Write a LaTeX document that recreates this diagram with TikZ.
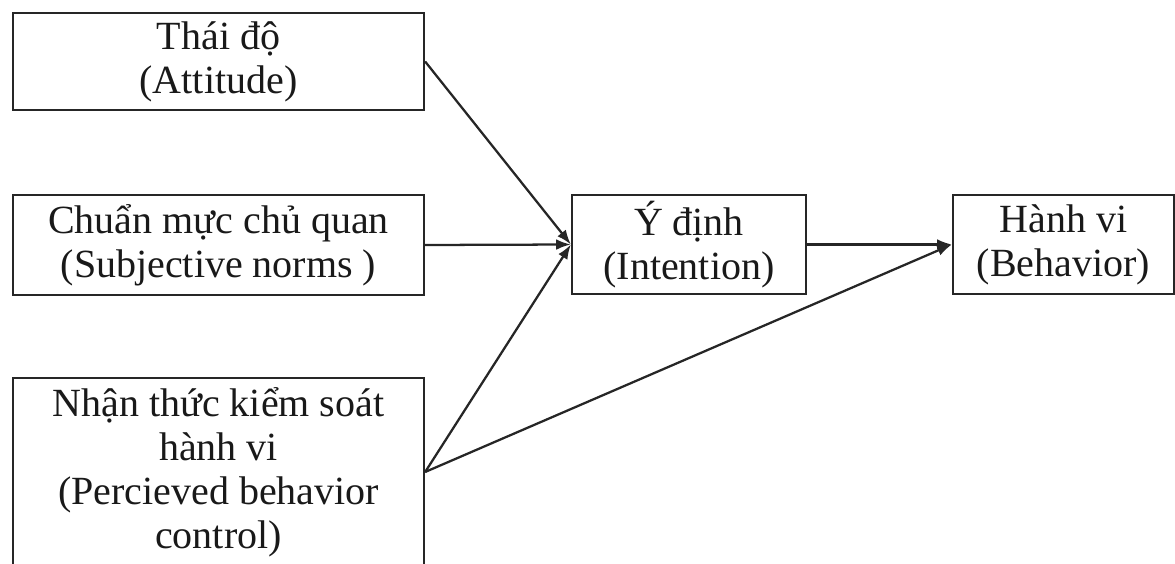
\documentclass[tikz,border=0pt]{standalone}
\usepackage{fontspec}
\setmainfont{Liberation Serif}
\usetikzlibrary{arrows.meta}
\begin{document}
\begin{tikzpicture}[x=0.75pt,y=-0.75pt,
  box/.style={draw=black!85, line width=1.7pt, inner sep=0pt, align=center,
    text=black!90, font=\fontsize{30}{33}\selectfont},
  arr/.style={draw=black!85, line width=1.7pt, -{Latex[length=11pt,width=8pt]}}]
\useasboundingbox (0,0) rectangle (1175,564);
% factor boxes on the left
\node[box, minimum width=308.25pt, minimum height=73pt] (att) at (218.5,61.5)
  {Thái độ\\(Attitude)};
\node[box, minimum width=308.25pt, minimum height=75pt] (sub) at (218.5,245)
  {Chuẩn mực chủ quan\\(Subjective norms )};
\node[box, minimum width=308.25pt, minimum height=141pt] (pbc) at (218.5,472)
  {Nhận thức kiểm soát\\hành vi\\(Percieved behavior\\control)};
% intention and behavior
\node[box, minimum width=175.5pt, minimum height=74.5pt] (int) at (689,244.5)
  {Ý định\\(Intention)};
\node[box, minimum width=165.75pt, minimum height=74.5pt] (beh) at (1063.5,244.5)
  {Hành vi\\(Behavior)};
% connectors
\draw[arr] (att.east) -- (int.west);
\draw[arr] (sub.east) -- (int.west);
\draw[arr] (pbc.east) -- (int.west);
\draw[arr] (int.east) -- (beh.west);
\draw[arr] (pbc.east) -- (beh.west);
\end{tikzpicture}
\end{document}
